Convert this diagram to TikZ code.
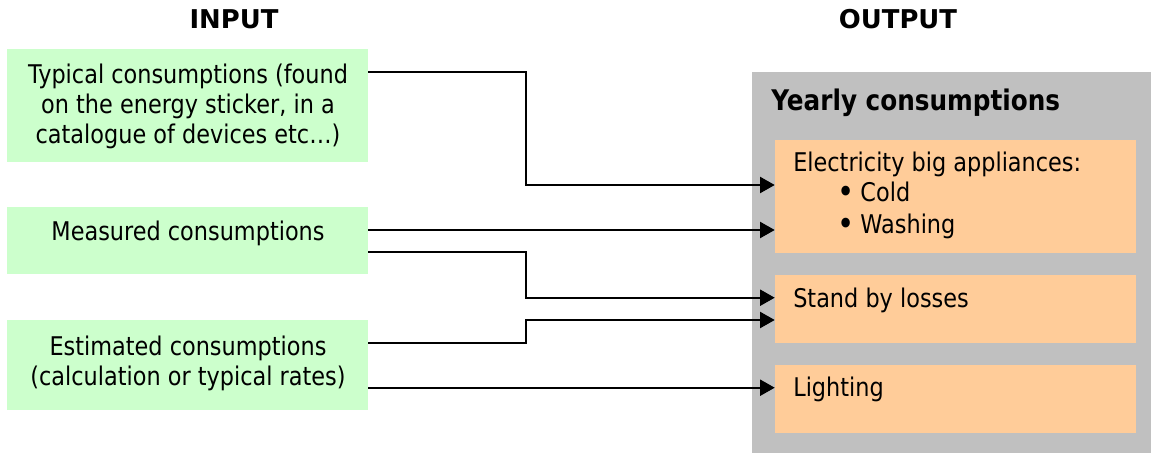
\documentclass[tikz,border=0pt]{standalone}
\usepackage{fontspec}
\setmainfont{DejaVu Sans}[FakeStretch=0.87]
\newfontfamily\headfont{DejaVu Sans}
\usetikzlibrary{arrows.meta,fit}

\definecolor{inputgreen}{HTML}{CCFFCC}
\definecolor{outputorange}{HTML}{FFCC99}
\definecolor{panelgray}{HTML}{C0C0C0}

% a slightly enlarged list bullet, kept centred on the x-height
\newcommand{\listdot}{\raisebox{-1.6pt}{\scalebox{1.3}{•}}}

\begin{document}
\begin{tikzpicture}[
    x=0.75pt, y=-0.75pt,
    inbox/.style={fill=inputgreen, inner sep=0pt, draw=none},
    outbox/.style={fill=outputorange, inner sep=0pt, draw=none},
    panel/.style={fill=panelgray, inner sep=0pt, draw=none},
    body/.style={font=\fontsize{19.3pt}{22.5pt}\selectfont, inner sep=0pt},
    heading/.style={font=\headfont\bfseries\fontsize{19.4pt}{22pt}\selectfont, inner sep=0pt, anchor=base},
    title/.style={font=\bfseries\fontsize{21.3pt}{24pt}\selectfont, inner sep=0pt, anchor=base west},
    link/.style={line width=1.6pt, black, -{Triangle[length=11pt,width=12pt]}},
  ]
  \useasboundingbox (0,0) rectangle (1151,453);

  % column headings
  \node[heading] (hin)  at (234,29) {INPUT};
  \node[heading] (hout) at (898,29) {OUTPUT};

  % input boxes
  \node[inbox, fit={(7,49) (368,162)}]  (in1) {};
  \node[inbox, fit={(7,207) (368,274)}] (in2) {};
  \node[inbox, fit={(7,320) (368,410)}] (in3) {};

  \node[body, align=center] (t1) at (188,106)
    {Typical consumptions (found\\on the energy sticker, in a\\catalogue of devices etc…)};
  \node[body, anchor=base] (t2) at (188,240) {Measured consumptions};
  \node[body, align=center] (t3) at (188,363)
    {Estimated consumptions\\(calculation or typical rates)};

  % output panel with its three boxes
  \node[panel, fit={(752,72) (1151,453)}] (pan) {};
  \node[title] (ttl) at (771,110) {Yearly consumptions};

  \node[outbox, fit={(775,140) (1136,252.7)}] (out1) {};
  \node[outbox, fit={(775,275) (1136,342.7)}] (out2) {};
  \node[outbox, fit={(775,365) (1136,432.7)}] (out3) {};

  \node[body, anchor=base west] (o1a) at (793,171) {Electricity big appliances:};
  \node[body, anchor=base west] (o1b) at (837,201.7) {\listdot\hspace{4.5pt}Cold};
  \node[body, anchor=base west] (o1c) at (837,233) {\listdot\hspace{4.5pt}Washing};
  \node[body, anchor=base west] (o2a) at (793,307.7) {Stand by losses};
  \node[body, anchor=base west] (o3a) at (793,396.7) {Lighting};

  % connectors
  \draw[link] (in1.east |- 0,72)    -| (525.7,185)   -- (out1.west |- 0,185);
  \draw[link] (in2.east |- 0,230)   -- (out1.west |- 0,230);
  \draw[link] (in2.east |- 0,252.3) -| (525.7,297.7) -- (out2.west |- 0,297.7);
  \draw[link] (in3.east |- 0,342.7) -| (525.7,320)   -- (out2.west |- 0,320);
  \draw[link] (in3.east |- 0,387.7) -- (out3.west |- 0,387.7);
\end{tikzpicture}
\end{document}
